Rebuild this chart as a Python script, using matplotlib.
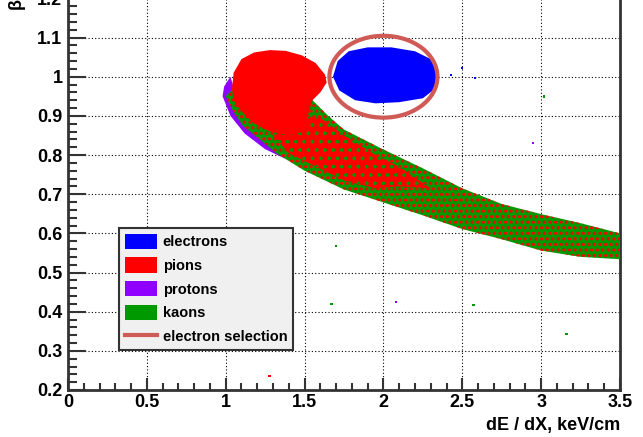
import numpy as np
import matplotlib
matplotlib.use("Agg")
import matplotlib.pyplot as plt
from matplotlib.patches import Polygon, Ellipse, Patch
from matplotlib.lines import Line2D
from matplotlib.ticker import MultipleLocator

plt.rcParams['font.family'] = ['Liberation Sans', 'DejaVu Sans']
plt.rcParams['hatch.linewidth'] = 1.5

# =========================
# Data
# =========================

# kaon / proton / pion band: upper and lower edge
band_upper_x = [1.05, 1.40, 1.55, 1.65, 1.75, 2.00, 2.25, 2.50, 2.75, 3.00, 3.25, 3.50]
band_upper_y = [0.97, 0.99, 0.94, 0.90, 0.865, 0.814, 0.766, 0.715, 0.675, 0.649, 0.626, 0.600]
band_lower_x = [1.00, 1.05, 1.11, 1.20, 1.32, 1.50, 1.75, 2.00, 2.25, 2.50, 2.75, 3.00, 3.25, 3.50]
band_lower_y = [0.95, 0.91, 0.874, 0.845, 0.805, 0.76, 0.712, 0.679, 0.646, 0.611, 0.585, 0.556, 0.540, 0.534]

# pion blob (dense red region)
pion_x = [1.04, 1.05, 1.10, 1.18, 1.28, 1.38, 1.48, 1.57, 1.63, 1.64, 1.60, 1.55, 1.52,
          1.50, 1.40, 1.28, 1.17, 1.09, 1.05]
pion_y = [0.97, 1.01, 1.045, 1.062, 1.068, 1.066, 1.055, 1.035, 1.005, 0.985, 0.96, 0.94, 0.90,
          0.86, 0.85, 0.86, 0.883, 0.916, 0.94]

# pion-rich part of the band
pion_core_x = [1.30, 1.45, 1.60, 1.75, 1.95, 2.10, 2.30, 2.10, 1.95, 1.75, 1.55, 1.40]
pion_core_y = [0.85, 0.90, 0.895, 0.85, 0.80, 0.77, 0.715, 0.72, 0.715, 0.735, 0.775, 0.805]

# proton fringe on the low-velocity side
proton_x = [0.99, 1.03, 1.06, 1.12, 1.25, 1.38, 1.25, 1.12, 1.03, 0.98]
proton_y = [0.975, 1.00, 0.96, 0.90, 0.84, 0.79, 0.815, 0.855, 0.90, 0.95]

# electron blob
electron_x = [1.68, 1.71, 1.78, 1.90, 2.05, 2.20, 2.30, 2.35, 2.33, 2.25, 2.10, 1.95, 1.82, 1.72]
electron_y = [1.00, 1.04, 1.065, 1.075, 1.075, 1.065, 1.045, 1.01, 0.97, 0.945, 0.935, 0.932, 0.94, 0.965]

# isolated hits
stray_x = [1.18, 1.30, 1.425, 1.277, 1.70, 1.67, 2.08, 2.57, 3.16, 2.95, 3.02, 2.58, 2.50, 2.43]
stray_y = [0.559, 0.497, 0.353, 0.236, 0.567, 0.419, 0.424, 0.417, 0.343, 0.831, 0.95, 0.997, 1.022, 1.005]
stray_kind = ['pion', 'pion', 'pion', 'pion', 'kaon', 'kaon', 'proton', 'kaon', 'kaon',
              'proton', 'kaon', 'electron', 'electron', 'electron']

# electron selection cut
sel_center = (2.0, 1.0)
sel_width = 0.685
sel_height = 0.209

# =========================
# Plot
# =========================

colors = {'electron': '#0000ff', 'pion': '#ff0000', 'proton': '#8f00ff', 'kaon': '#009900'}
sel_color = '#d05a55'

fig = plt.figure(figsize=(6.43, 4.37), dpi=100)
ax = fig.add_axes([68 / 643, 47 / 437, 552 / 643, 391.6 / 437])

band_x = band_upper_x + band_lower_x[::-1]
band_y = band_upper_y + band_lower_y[::-1]
band_xy = np.column_stack([band_x, band_y])

ax.add_patch(Polygon(np.column_stack([proton_x, proton_y]), closed=True,
                     facecolor=colors['proton'], edgecolor='none', zorder=2))
ax.add_patch(Polygon(band_xy, closed=True,
                     facecolor=colors['kaon'], edgecolor='none', zorder=3))
ax.add_patch(Polygon(band_xy, closed=True,
                     facecolor='none', edgecolor=colors['pion'], linewidth=0,
                     hatch='...', zorder=4))
ax.add_patch(Polygon(np.column_stack([pion_core_x, pion_core_y]), closed=True,
                     facecolor=colors['pion'], edgecolor=colors['kaon'], linewidth=0,
                     hatch='..', zorder=4.5))
ax.add_patch(Polygon(np.column_stack([pion_x, pion_y]), closed=True,
                     facecolor=colors['pion'], edgecolor='none', zorder=5))
ax.add_patch(Polygon(np.column_stack([electron_x, electron_y]), closed=True,
                     facecolor=colors['electron'], edgecolor='none', zorder=5))

ax.scatter(stray_x, stray_y, s=3, marker='s', linewidths=0,
           c=[colors[k] for k in stray_kind], zorder=5)

ax.add_patch(Ellipse(sel_center, sel_width, sel_height, facecolor='none',
                     edgecolor=sel_color, linewidth=3, zorder=6))

# axes look
ax.set_xlim(0, 3.5)
ax.set_ylim(0.2, 1.2)
ax.xaxis.set_minor_locator(MultipleLocator(0.1))
ax.yaxis.set_minor_locator(MultipleLocator(0.02))
ax.set_xticks(np.arange(0, 3.51, 0.5), ['0', '0.5', '1', '1.5', '2', '2.5', '3', '3.5'])
ax.set_yticks(np.arange(0.2, 1.21, 0.1),
              ['0.2', '0.3', '0.4', '0.5', '0.6', '0.7', '0.8', '0.9', '1', '1.1', '1.2'])

ax.grid(True, which='major', color='black', linestyle=(0, (1, 2)), linewidth=0.8, zorder=1)
ax.set_axisbelow(True)

ax.tick_params(axis='both', which='both', direction='in', color='#333333', width=1.5,
               top=False, right=False, labelsize=13)
ax.tick_params(axis='y', which='major', length=13, pad=4)
ax.tick_params(axis='y', which='minor', length=6.5)
ax.tick_params(axis='x', which='major', length=8.6, pad=3)
ax.tick_params(axis='x', which='minor', length=5)
for lab in ax.get_xticklabels() + ax.get_yticklabels():
    lab.set_fontweight('bold')

for side in ['left', 'bottom', 'right']:
    ax.spines[side].set_color('#333333')
    ax.spines[side].set_linewidth(2)
ax.spines['top'].set_visible(False)

ax.set_xlabel('dE / dX, keV/cm', loc='right', fontsize=13, fontweight='bold', labelpad=4)
ax.set_ylabel('β', loc='top', fontsize=13, fontweight='bold', labelpad=9)

handles = [Patch(facecolor=colors['electron'], edgecolor='none'),
           Patch(facecolor=colors['pion'], edgecolor='none'),
           Patch(facecolor=colors['proton'], edgecolor='none'),
           Patch(facecolor=colors['kaon'], edgecolor='none'),
           Line2D([0], [0], color=sel_color, linewidth=3)]
labels = ['electrons', 'pions', 'protons', 'kaons', 'electron selection']
leg = ax.legend(handles, labels, loc='upper left', bbox_to_anchor=(0.0924, 0.414),
                borderaxespad=0, fancybox=False, framealpha=1, facecolor='#f0f0f0',
                edgecolor='#333333', prop={'weight': 'bold', 'size': 10.5},
                handlelength=2.2, handleheight=1.25, labelspacing=0.55,
                handletextpad=0.4, borderpad=0.4)
leg.get_frame().set_linewidth(1.5)
leg.set_zorder(10)

fig.savefig('out.png', dpi=100)
